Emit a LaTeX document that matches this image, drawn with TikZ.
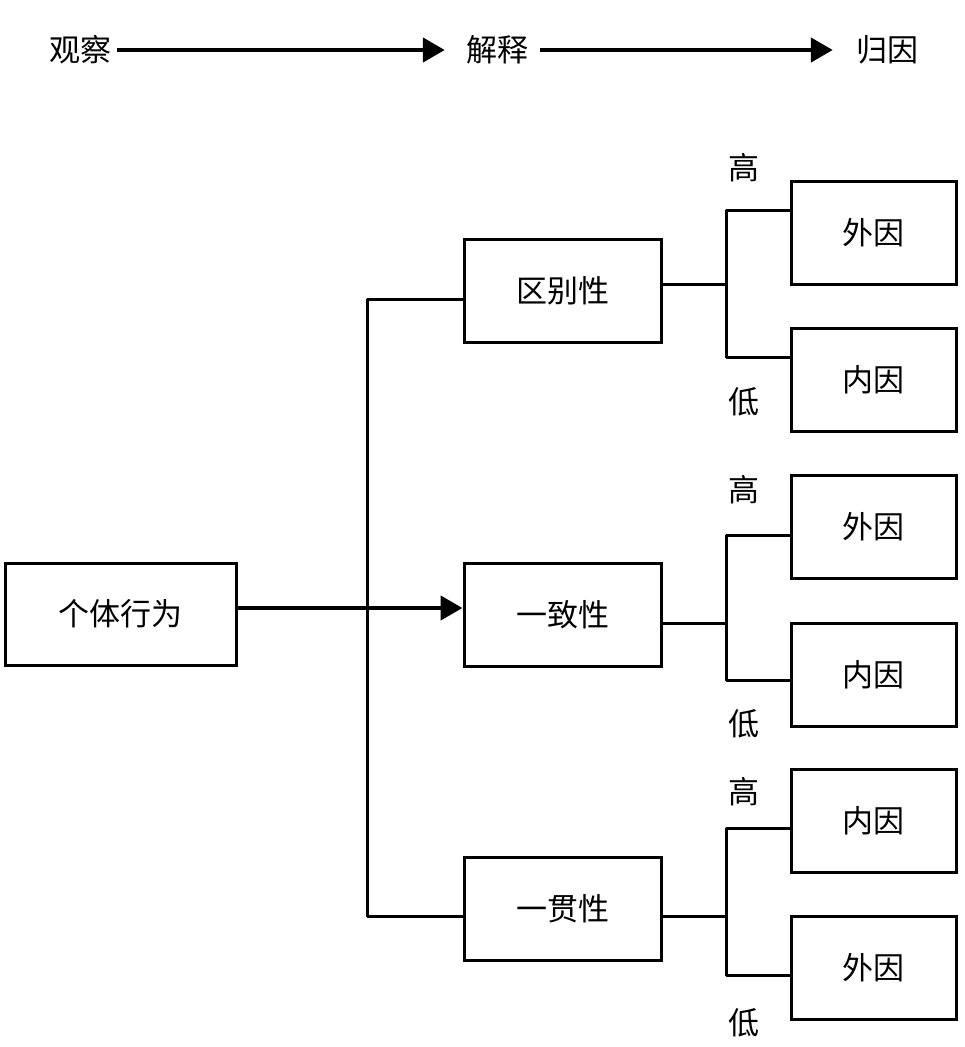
\documentclass[tikz,border=0pt]{standalone}
\usepackage{fontspec}
\setmainfont{Noto Sans CJK SC}
\usetikzlibrary{arrows.meta, positioning}

\begin{document}
\begin{tikzpicture}[
  x=1pt, y=-1pt,
  font=\fontsize{31}{36}\selectfont,
  box/.style={draw, line width=3pt, minimum width=197pt,
              minimum height=103pt, align=center, fill=white},
  cause/.style={draw, line width=3pt, minimum width=165pt,
                minimum height=103pt, align=center, fill=white},
  link/.style={line width=3pt, line join=round},
  arrow/.style={-{Triangle[length=22pt, width=24pt]}, line width=4.5pt},
  tag/.style={inner sep=0pt}
]
\useasboundingbox (0,0) rectangle (965,1047);

%% Top row: 观察 -> 解释 -> 归因
\node[tag] (obs)  at (80,50)  {观察};
\node[tag] (expl) at (497,50) {解释};
\node[tag] (attr) at (887,50) {归因};
\draw[arrow, shorten <=6pt, shorten >=21pt] (obs.east) -- (expl.west);
\draw[arrow, shorten <=12pt, shorten >=23pt] (expl.east) -- (attr.west);

%% Behaviour and the three criteria
\node[box, minimum width=231pt, minimum height=102pt] (act) at (120.5,614) {个体行为};
\node[box] (dist) at (562.5,290.5) {区别性};
\node[box] (cons) at (562.5,615)   {一致性};
\node[box] (pers) at (562.5,908.5) {一贯性};

\coordinate (t1)  at (367,299);
\coordinate (t3)  at (367,916);
\coordinate (mid) at (367,608);
\draw[link] (dist.west |- t1) -- (t1) -- (t3) -- (pers.west |- t3);
\draw[arrow] (act.east |- mid) -- (cons.west |- mid);

%% Causes
\node[cause] (ext1) at (873.5,232.5) {外因};
\node[cause] (int1) at (873.5,379.5) {内因};
\node[cause] (ext2) at (873.5,526.5) {外因};
\node[cause] (int2) at (873.5,674.5) {内因};
\node[cause] (int3) at (873.5,820.5) {内因};
\node[cause] (ext3) at (873.5,968)   {外因};

%% Branch 1: 区别性
\coordinate (j1) at (726,284);
\coordinate (h1) at (726,210);
\coordinate (l1) at (726,357);
\draw[link] (dist.east |- j1) -- (j1);
\draw[link] (ext1.west |- h1) -- (h1) -- (l1) -- (int1.west |- l1);
\node[tag] (hi1) at (744,168)  {高};
\node[tag] (lo1) at (744,402)  {低};

%% Branch 2: 一致性
\coordinate (j2) at (726,623);
\coordinate (h2) at (726,535);
\coordinate (l2) at (726,680);
\draw[link] (cons.east |- j2) -- (j2);
\draw[link] (ext2.west |- h2) -- (h2) -- (l2) -- (int2.west |- l2);
\node[tag] (hi2) at (744,490)  {高};
\node[tag] (lo2) at (744,724)  {低};

%% Branch 3: 一贯性
\coordinate (j3) at (726,916);
\coordinate (h3) at (726,828);
\coordinate (l3) at (726,975);
\draw[link] (pers.east |- j3) -- (j3);
\draw[link] (int3.west |- h3) -- (h3) -- (l3) -- (ext3.west |- l3);
\node[tag] (hi3) at (744,792)  {高};
\node[tag] (lo3) at (744,1023) {低};

\end{tikzpicture}
\end{document}
